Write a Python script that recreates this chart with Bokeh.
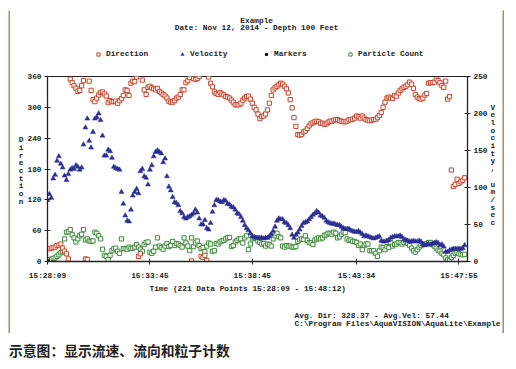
from bokeh.plotting import figure
from bokeh.models import Range1d, LinearAxis, FixedTicker, Legend, LegendItem, Title, Div, Spacer
from bokeh.layouts import column, row
from bokeh.core.properties import value
from bokeh.embed import file_html
from bokeh.resources import INLINE

# ---------------- data ----------------
direction = [
    3, 25, 26, 27, 28, 31, 32, 34, 26, 20,
    15, 5, 355, 348, 342, 337, 331, 333, 342, 352,
    5, 4, 351, 333, 315, 311, 318, 324, 329, 330,
    326, 322, 309, 313, 311, 311, 312, 308, 313, 317,
    323, 334, 333, 323, 347, 351, 350, 359, 10, 15,
    353, 334, 325, 339, 341, 338, 336, 334, 337, 331,
    328, 325, 322, 318, 312, 310, 310, 313, 318, 320,
    325, 334, 334, 348, 352, 358, 1, 356, 354, 356,
    360, 10, 8, 12, 2, 359, 347, 340, 330, 327,
    325, 329, 326, 324, 321, 320, 318, 314, 310, 305,
    305, 305, 308, 314, 318, 321, 322, 316, 308, 300,
    295, 287, 278, 282, 283, 287, 295, 308, 323, 334,
    338, 341, 344, 347, 345, 341, 336, 328, 315, 299,
    280, 263, 247, 246, 247, 252, 254, 259, 264, 268,
    270, 272, 273, 272, 269, 269, 267, 268, 271, 273,
    273, 275, 276, 276, 274, 273, 272, 272, 273, 276,
    276, 277, 279, 283, 282, 279, 283, 279, 276, 275,
    274, 275, 276, 277, 280, 284, 290, 300, 310, 318,
    320, 318, 317, 323, 322, 328, 333, 336, 339, 341,
    344, 349, 345, 337, 325, 320, 317, 316, 318, 324,
    327, 347, 348, 348, 349, 355, 352, 348, 342, 339,
    351, 316, 321, 178, 146, 150, 160, 152, 155, 158, 163,
]

velocity = [
    83, 91, 86, 112, 117, 136, 142, 132, 127, 116,
    110, 118, 124, 126, 125, 130, 128, 124, 127, 158,
    181, 193, 163, 154, 175, 193, 195, 200, 191, 170,
    143, 143, 151, 149, 140, 128, 126, 125, 124, 94,
    78, 62, 55, 54, 70, 89, 94, 98, 92, 122,
    125, 115, 113, 104, 124, 130, 142, 148, 150, 148,
    146, 134, 139, 115, 101, 96, 87, 80, 79, 76,
    68, 65, 60, 58, 60, 61, 63, 65, 70, 66,
    58, 50, 50, 56, 45, 43, 52, 67, 76, 83,
    83, 81, 80, 83, 82, 78, 77, 74, 73, 70,
    65, 64, 60, 55, 49, 45, 42, 38, 34, 33,
    32, 32, 32, 32, 31, 32, 32, 34, 37, 41,
    47, 55, 58, 57, 57, 53, 52, 49, 45, 36,
    32, 36, 39, 43, 48, 52, 53, 54, 57, 60,
    63, 65, 68, 66, 62, 61, 59, 55, 53, 52,
    51, 51, 50, 49, 49, 47, 45, 44, 44, 44,
    42, 41, 40, 40, 41, 39, 37, 34, 35, 34,
    33, 32, 31, 32, 33, 34, 28, 27, 27, 28,
    29, 32, 33, 34, 34, 34, 35, 33, 30, 29,
    28, 27, 27, 28, 27, 27, 28, 27, 23, 22,
    23, 23, 23, 24, 25, 26, 25, 22, 23, 20,
    13, 13, 15, 16, 17, 17, 17, 17, 17, 18, 22,
]

particle_count = [
    3, 4, 4, 6, 7, 10, 13, 17, 19, 44,
    57, 58, 62, 52, 46, 38, 44, 50, 53, 62,
    42, 44, 40, 39, 40, 57, 55, 50, 44, 24,
    12, 10, 4, 12, 21, 25, 26, 20, 16, 44,
    25, 25, 24, 28, 25, 26, 28, 33, 28, 24,
    20, 33, 37, 38, 18, 16, 20, 28, 46, 30,
    27, 24, 30, 35, 29, 31, 39, 31, 35, 34,
    31, 28, 46, 36, 30, 21, 46, 29, 36, 40,
    31, 25, 27, 19, 30, 36, 34, 20, 21, 35,
    34, 38, 40, 41, 44, 46, 47, 29, 31, 38,
    41, 44, 44, 36, 46, 50, 23, 34, 44, 46,
    45, 40, 37, 34, 35, 30, 34, 33, 30, 44,
    50, 55, 48, 46, 30, 28, 31, 30, 30, 28,
    28, 29, 39, 42, 44, 43, 50, 41, 37, 36,
    33, 42, 44, 46, 44, 46, 51, 52, 55, 55,
    53, 57, 55, 46, 48, 53, 57, 56, 44, 41,
    42, 39, 39, 37, 31, 34, 23, 31, 34, 34,
    21, 21, 21, 16, 10, 21, 28, 27, 23, 29,
    27, 37, 30, 33, 34, 37, 37, 34, 37, 40,
    35, 31, 26, 21, 18, 23, 28, 31, 34, 33,
    35, 37, 37, 33, 30, 26, 22, 20, 16, 13,
    7, 3, 2, 8, 12, 16, 18, 15, 14, 13, 14,
]

marker_index = [0]
marker_value = [0]

sample_index = list(range(len(direction)))

time_ticks = [0, 54, 108, 163, 217]
time_labels = ["15:28:09", "15:33:45", "15:38:45", "15:43:34", "15:47:55"]
dir_ticks = [0, 60, 120, 180, 240, 300, 360]
vel_ticks = [0, 50, 100, 150, 200, 250]

title_text = "Example"
subtitle_text = "Date: Nov 12, 2014 - Depth 100 Feet"
x_label = "Time (221 Data Points 15:28:09 - 15:48:12)"
left_label = "Direction"
right_label = "Velocity, um/sec"
avg_text = "Avg. Dir: 328.37 - Avg.Vel: 57.44"
path_text = "C:\\Program Files\\AquaVISION\\AquaLite\\Example."
caption_text = "示意图：显示流速、流向和粒子计数"

# ---------------- styling ----------------
FONT = "Liberation Mono"
FS = "7.8px"
INK = "#222222"
RED = "#c8442c"
BLUE = "#2c2f94"
GREEN = "#3f8a3c"
FRAME = "#a58d6d"

OUT_W, OUT_H = 496, 327      # brown-framed picture
IN_W, IN_H = 492, 323        # inside the 2px frame
HEAD_H = 61
MAIN_H = IN_H - HEAD_H


def strip(w, h):
    s = figure(width=w, height=h, output_backend="svg", toolbar_location=None,
               x_axis_type=None, y_axis_type=None, title=None, min_border=0)
    s.background_fill_color = FRAME
    s.border_fill_color = FRAME
    s.outline_line_color = None
    s.grid.visible = False
    return s


# ---------------- header: titles + legend ----------------
head = figure(width=IN_W, height=HEAD_H, output_backend="svg", toolbar_location=None,
              x_axis_type=None, y_axis_type=None, title=None, min_border=0,
              x_range=Range1d(0, IN_W), y_range=Range1d(0, HEAD_H))
head.outline_line_color = None
head.grid.visible = False
head.text(x=[245, 245], y=[51, 43.3], text=[title_text, subtitle_text],
          text_font=value(FONT), text_font_size=value(FS), text_font_style="bold",
          text_align="center", text_baseline="middle", text_color=INK)

# legend proxies (kept outside the header's visible range)
h_dir = head.scatter([-50], [-50], marker="square", size=4.2, line_color=RED,
                     fill_color="white", line_width=1)
h_vel = head.scatter([-50], [-50], marker="triangle", size=5, line_color=BLUE,
                     fill_color=BLUE, line_width=0.5)
h_mark = head.scatter([-50], [-50], marker="asterisk", size=5, line_color="black",
                      line_width=1.5)
h_part = head.scatter([-50], [-50], marker="square", size=4.2, line_color=GREEN,
                      fill_color="white", line_width=1)

legend = Legend(items=[
    LegendItem(label="Direction", renderers=[h_dir]),
    LegendItem(label="Velocity", renderers=[h_vel]),
    LegendItem(label="Markers", renderers=[h_mark]),
    LegendItem(label="Particle Count", renderers=[h_part]),
], orientation="horizontal", location=(47, 13),
    glyph_width=8, glyph_height=8, label_standoff=4, label_width=68,
    label_height=8, spacing=4, padding=2, margin=0,
    border_line_color=None, background_fill_alpha=0,
    label_text_font=FONT, label_text_font_size=FS,
    label_text_font_style="bold", label_text_color=INK)
head.add_layout(legend)

# ---------------- main chart ----------------
p = figure(width=IN_W, height=MAIN_H, output_backend="svg", toolbar_location=None,
           title=None,
           x_range=Range1d(0, 221.5), y_range=Range1d(0, 360),
           min_border_left=37, min_border_right=35,
           min_border_top=5, min_border_bottom=72)
# letter ranges: one unit = one stacked character (7.7 px)
p.extra_y_ranges = {"vel": Range1d(0, 250),
                    "lbl_left": Range1d(-7.75, 16.28),
                    "lbl_right": Range1d(-5.0, 19.03)}
p.grid.visible = False
p.outline_line_color = INK
p.outline_line_width = 1
p.background_fill_color = "white"
p.border_fill_color = "white"


def style_axis(ax):
    ax.axis_line_color = INK
    ax.axis_line_width = 1.3
    ax.major_tick_line_color = INK
    ax.major_tick_in = 3
    ax.major_tick_out = 3
    ax.minor_tick_line_color = None
    ax.major_label_text_font = FONT
    ax.major_label_text_font_size = FS
    ax.major_label_text_font_style = "bold"
    ax.major_label_text_color = INK


def letter_axis(text, range_name, standoff):
    chars = list(reversed(list(text)))
    ticks = list(range(len(chars)))
    ax = LinearAxis(y_range_name=range_name, ticker=FixedTicker(ticks=ticks))
    style_axis(ax)
    ax.axis_line_color = None
    ax.major_tick_line_color = None
    ax.major_tick_in = 0
    ax.major_tick_out = 0
    ax.major_label_standoff = standoff
    ax.major_label_overrides = {t: c for t, c in zip(ticks, chars)}
    return ax


xa = p.xaxis[0]
style_axis(xa)
xa.ticker = FixedTicker(ticks=time_ticks)
xa.major_label_overrides = {t: l for t, l in zip(time_ticks, time_labels)}
xa.major_label_standoff = 7

ya = p.yaxis[0]
style_axis(ya)
ya.ticker = FixedTicker(ticks=dir_ticks)
ya.major_label_standoff = 3

ra = LinearAxis(y_range_name="vel", ticker=FixedTicker(ticks=vel_ticks))
style_axis(ra)
ra.major_label_standoff = 3
p.add_layout(ra, "right")

# stacked (upright) axis titles, one character per line
p.add_layout(letter_axis(left_label, "lbl_left", 1), "left")
p.add_layout(letter_axis(right_label, "lbl_right", 0), "right")

p.scatter(sample_index, particle_count, marker="square", size=4.2,
          line_color=GREEN, fill_color="white", line_width=1)
p.scatter(sample_index, direction, marker="square", size=4.2,
          line_color=RED, fill_color="white", line_width=1)
p.scatter(sample_index, velocity, y_range_name="vel", marker="triangle",
          size=5, line_color=BLUE, fill_color=BLUE, line_width=0.5)
p.scatter(marker_index, marker_value, marker="asterisk", size=5,
          line_color="black", line_width=1.5)

# x-axis caption + info lines as one left-aligned monospace block
NB = "\u00a0"
pad = NB * 31
footer = "\n".join([x_label, NB, NB, pad + avg_text, pad + path_text])
p.add_layout(Title(text=footer, align="left", offset=102, text_font=FONT,
                   text_font_size=FS, text_font_style="bold",
                   text_color=INK, text_line_height=1.12, standoff=0), "below")

cap = Div(text='<div style="font-family: \'Noto Sans CJK SC\'; font-size: 13.8px; '
               'font-weight: bold; color: #1e1e1e; padding: 1px 0 0 4px; '
               'white-space: nowrap;">' + caption_text + '</div>',
          width=OUT_W, height=24)

framed = column(strip(OUT_W, 2),
                row(strip(2, IN_H), column(head, p), strip(2, IN_H)),
                strip(OUT_W, 2))
layout = column(Spacer(width=8, height=8),
                row(Spacer(width=8, height=OUT_H), framed),
                cap)
open("out.html", "w").write(file_html(layout, INLINE))
